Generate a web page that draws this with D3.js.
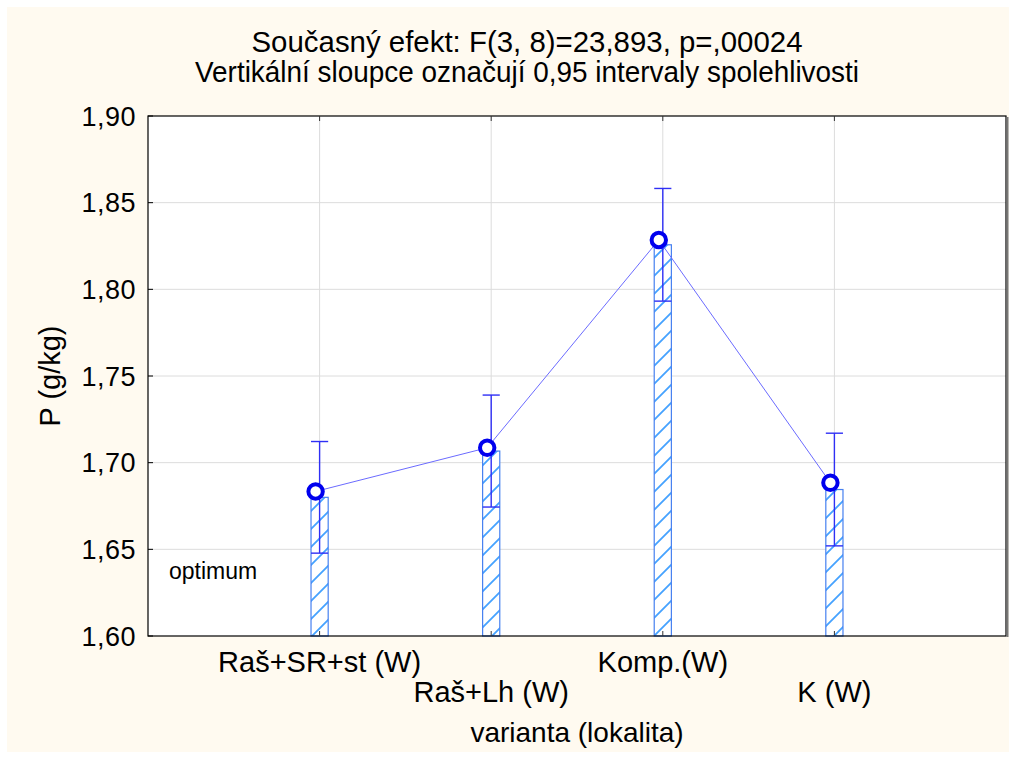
<!DOCTYPE html>
<html>
<head>
<meta charset="utf-8">
<script src="https://cdn.jsdelivr.net/npm/d3@7"></script>
<style>
  html, body { margin: 0; padding: 0; background: #fff; }
  svg { display: block; font-family: "Liberation Sans", Arial, sans-serif; }
</style>
</head>
<body>
<svg id="chart" width="1015" height="759"></svg>
<script>
const titleLines = ['Současný efekt: F(3, 8)=23,893, p=,00024', 'Vertikální sloupce označují 0,95 intervaly spolehlivosti'];
const categories = ['Raš+SR+st (W)', 'Raš+Lh (W)', 'Komp.(W)', 'K (W)'];
const barMeans = [1.680, 1.7067, 1.8257, 1.6845];
const ciHalf = [0.0322, 0.0323, 0.0325, 0.0325];
const pointValues = [1.6834, 1.7086, 1.8285, 1.6884];
const yTicks = [1.60, 1.65, 1.70, 1.75, 1.80, 1.85, 1.90];
const xLabel = 'varianta (lokalita)';
const yLabel = 'P (g/kg)';
const note = 'optimum';

const width = 1015;
const height = 759;
const margin = { top: 116, right: 9, bottom: 123, left: 148 };
const plotW = width - margin.left - margin.right;
const plotH = height - margin.top - margin.bottom;

const svg = d3.select('#chart');

svg.append('rect').
attr('x', 7).attr('y', 7).
attr('width', 1002).attr('height', 745).
attr('fill', '#fffaf0');

const defs = svg.append('defs');
const pat = defs.append('pattern').
attr('id', 'hatch').
attr('patternUnits', 'userSpaceOnUse').
attr('width', 18).attr('height', 18);
pat.append('rect').attr('width', 18).attr('height', 18).attr('fill', '#fff');
pat.append('path').
attr('d', 'M-4,22 L22,-4 M-4,4 L4,-4 M14,22 L22,14').
attr('stroke', '#45a2ff').
attr('stroke-width', 1.8);

const x = d3.scaleLinear().domain([0, categories.length + 1]).range([0, plotW]);
const y = d3.scaleLinear().domain([1.60, 1.90]).range([plotH, 0]);

const g = svg.append('g').attr('transform', 'translate(' + margin.left + ',' + margin.top + ')');

g.append('rect').attr('width', plotW).attr('height', plotH).attr('fill', '#fff');

// grid
g.selectAll('.hgrid').
data(yTicks.slice(1, -1)).
enter().
append('line').
attr('x1', 0).attr('x2', plotW).
attr('y1', d => y(d)).attr('y2', d => y(d)).
attr('stroke', '#dcdcdc').attr('stroke-width', 1);

g.selectAll('.vgrid').
data(categories).
enter().
append('line').
attr('x1', (d, i) => x(i + 1)).attr('x2', (d, i) => x(i + 1)).
attr('y1', 0).attr('y2', plotH).
attr('stroke', '#dcdcdc').attr('stroke-width', 1);

// bars
const barW = x(0.1) - x(0);
g.selectAll('.bar').
data(barMeans).
enter().
append('rect').
attr('x', (d, i) => x(i + 1) - barW / 2).
attr('y', d => y(d)).
attr('width', barW).
attr('height', d => y(1.60) - y(d)).
attr('fill', 'url(#hatch)').
attr('stroke', '#4680f0').
attr('stroke-width', 1.2);

// error bars
const err = g.selectAll('.err').
data(barMeans).
enter().
append('g').
attr('stroke', '#2f2ff5').
attr('stroke-width', 1.4);
err.append('line').
attr('x1', (d, i) => x(i + 1)).attr('x2', (d, i) => x(i + 1)).
attr('y1', (d, i) => y(d - ciHalf[i])).attr('y2', (d, i) => y(d + ciHalf[i]));
err.append('line').
attr('x1', (d, i) => x(i + 1) - barW / 2).attr('x2', (d, i) => x(i + 1) + barW / 2).
attr('y1', (d, i) => y(d + ciHalf[i])).attr('y2', (d, i) => y(d + ciHalf[i]));
err.append('line').
attr('x1', (d, i) => x(i + 1) - barW / 2).attr('x2', (d, i) => x(i + 1) + barW / 2).
attr('y1', (d, i) => y(d - ciHalf[i])).attr('y2', (d, i) => y(d - ciHalf[i]));

// mean line and markers (drawn slightly left of the category, as in the original)
const markerShift = -4;
const line = d3.line().
x((d, i) => x(i + 1) + markerShift).
y(d => y(d));
g.append('path').
datum(pointValues).
attr('d', line).
attr('fill', 'none').
attr('stroke', '#6b6bff').
attr('stroke-width', 1);

g.selectAll('.pt').
data(pointValues).
enter().
append('circle').
attr('cx', (d, i) => x(i + 1) + markerShift).
attr('cy', d => y(d)).
attr('r', 7.2).
attr('fill', '#fff').
attr('stroke', '#0000ee').
attr('stroke-width', 4);

// frame
g.append('rect').
attr('width', plotW).attr('height', plotH).
attr('fill', 'none').
attr('stroke', '#000').attr('stroke-width', 1.2);
g.append('line').
attr('x1', plotW + 1.5).attr('x2', plotW + 1.5).
attr('y1', 1).attr('y2', plotH + 1).
attr('stroke', '#777').attr('stroke-width', 2);

// ticks
g.selectAll('.ytick').
data(yTicks).
enter().
append('line').
attr('x1', 0).attr('x2', 5).
attr('y1', d => y(d)).attr('y2', d => y(d)).
attr('stroke', '#000');
g.selectAll('.xtickb').
data(categories).
enter().
append('line').
attr('x1', (d, i) => x(i + 1)).attr('x2', (d, i) => x(i + 1)).
attr('y1', plotH).attr('y2', plotH - 5).
attr('stroke', '#333');
g.selectAll('.xtickt').
data(categories).
enter().
append('line').
attr('x1', (d, i) => x(i + 1)).attr('x2', (d, i) => x(i + 1)).
attr('y1', 0).attr('y2', 5).
attr('stroke', '#333');

// tick labels
g.selectAll('.ylab').
data(yTicks).
enter().
append('text').
attr('x', -12).
attr('y', d => y(d) + 9.5).
attr('text-anchor', 'end').
style('font-size', '27px').
style('letter-spacing', '0.5px').
text(d => d3.format('.2f')(d).replace('.', ','));

g.selectAll('.xlab').
data(categories).
enter().
append('text').
attr('x', (d, i) => x(i + 1)).
attr('y', (d, i) => plotH + (i % 2 === 0 ? 36 : 66)).
attr('text-anchor', 'middle').
style('font-size', '29px').
text(d => d);

g.append('text').
attr('x', 21).attr('y', 579 - margin.top).
style('font-size', '23px').
text(note);

svg.append('text').
attr('x', margin.left + plotW / 2).
attr('y', 742).
attr('text-anchor', 'middle').
style('font-size', '28px').
text(xLabel);

svg.append('text').
attr('transform', 'translate(60,' + (margin.top + plotH / 2) + ') rotate(-90)').
attr('text-anchor', 'middle').
style('font-size', '29px').
text(yLabel);

const titleW = [551, 664];
svg.selectAll('.title').
data(titleLines).
enter().
append('text').
attr('x', 527).
attr('y', (d, i) => 52 + i * 30).
attr('text-anchor', 'middle').
style('font-size', '29px').
attr('textLength', (d, i) => titleW[i]).
attr('lengthAdjust', 'spacingAndGlyphs').
text(d => d);
</script>
</body>
</html>
